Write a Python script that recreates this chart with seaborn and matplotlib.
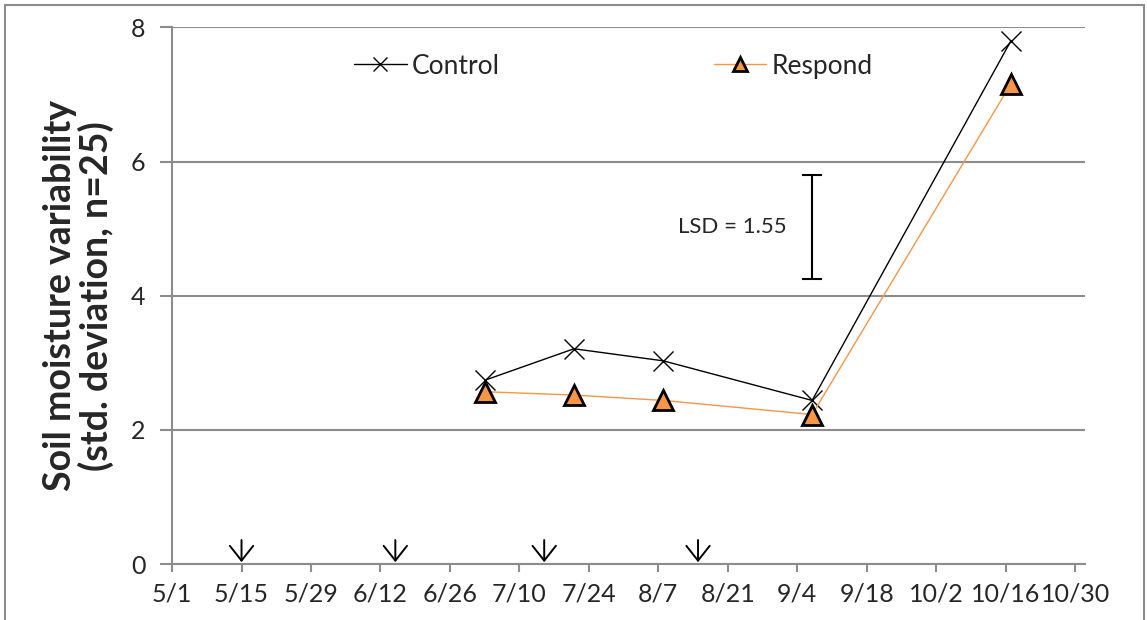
import pandas as pd
import matplotlib.pyplot as plt
import seaborn as sns

# data
dates = ['2013-07-03', '2013-07-21', '2013-08-08', '2013-09-07', '2013-10-17']
control = [2.74, 3.21, 3.03, 2.44, 7.79]
respond = [2.57, 2.52, 2.44, 2.23, 7.15]
event_dates = ['2013-05-15', '2013-06-15', '2013-07-15', '2013-08-15']
lsd_date = '2013-09-07'
lsd_low, lsd_high = 4.25, 5.80
tick_dates = pd.date_range('2013-05-01', '2013-10-30', freq='14D')

df = pd.DataFrame({'Date': pd.to_datetime(dates), 'Control': control, 'Respond': respond})

sns.set_style('white')
plt.rcParams['font.family'] = ['Lato', 'DejaVu Sans']

fig = plt.figure(figsize=(11.47, 6.2), dpi=100)
ax = fig.add_axes([0.150, 0.090, 0.796, 0.866])

orange = '#F79646'
sns.lineplot(data=df, x='Date', y='Control', ax=ax, color='black', lw=1,
             marker='x', markersize=15, markeredgewidth=1, markeredgecolor='black',
             label='Control')
sns.lineplot(data=df, x='Date', y='Respond', ax=ax, color=orange, lw=1,
             marker='^', markersize=15, markerfacecolor=orange, markeredgecolor='black',
             markeredgewidth=2, label='Respond')

# event arrows
for d in pd.to_datetime(event_dates):
    ax.annotate('', xy=(d, 0.03), xytext=(d, 0.36),
                arrowprops=dict(arrowstyle='->, head_width=0.3, head_length=0.38',
                                color='black', lw=1.4, mutation_scale=28,
                                shrinkA=0, shrinkB=0))

# LSD bar
ax.errorbar([pd.Timestamp(lsd_date)], [(lsd_low + lsd_high) / 2],
            yerr=[[(lsd_high - lsd_low) / 2]], fmt='none', ecolor='black',
            elinewidth=1.5, capsize=7, capthick=1.5)
ax.text(pd.Timestamp('2013-08-22'), (lsd_low + lsd_high) / 2, 'LSD = 1.55',
        ha='center', va='center', fontsize=16)

ax.set_xlim(pd.Timestamp('2013-05-01'), pd.Timestamp('2013-11-01'))
ax.set_ylim(0, 8)
ax.set_yticks([0, 2, 4, 6, 8])
ax.set_xticks(tick_dates)
ax.set_xticklabels([f'{d.month}/{d.day}' for d in tick_dates])
ax.yaxis.grid(True, color='#8c8c8c', lw=1.5)
ax.set_axisbelow(True)

for s in ['top', 'right']:
    ax.spines[s].set_visible(False)
for s in ['left', 'bottom']:
    ax.spines[s].set_color('#8c8c8c')
    ax.spines[s].set_linewidth(1.5)
ax.tick_params(axis='x', direction='out', length=6, width=1.5, color='#8c8c8c',
               labelsize=18, bottom=True, pad=7)
ax.tick_params(axis='y', direction='out', length=9, width=1.5, color='#8c8c8c',
               labelsize=18, left=True, pad=10)

ax.set_xlabel('')
ax.set_ylabel('Soil moisture variability\n(std. deviation, n=25)', fontsize=27,
              fontweight='bold', labelpad=12, linespacing=1.05)

ax.legend(loc='upper left', bbox_to_anchor=(0.173, 0.995), ncol=2, frameon=False,
          fontsize=19, handlelength=2.0, columnspacing=8.1, handletextpad=0.2,
          markerscale=0.7)

fig.patches.append(plt.Rectangle((0.004, -0.01), 0.993, 1.002, transform=fig.transFigure,
                                 fill=False, edgecolor='#8c8c8c', lw=1.5))

fig.savefig('out.png', dpi=100)
